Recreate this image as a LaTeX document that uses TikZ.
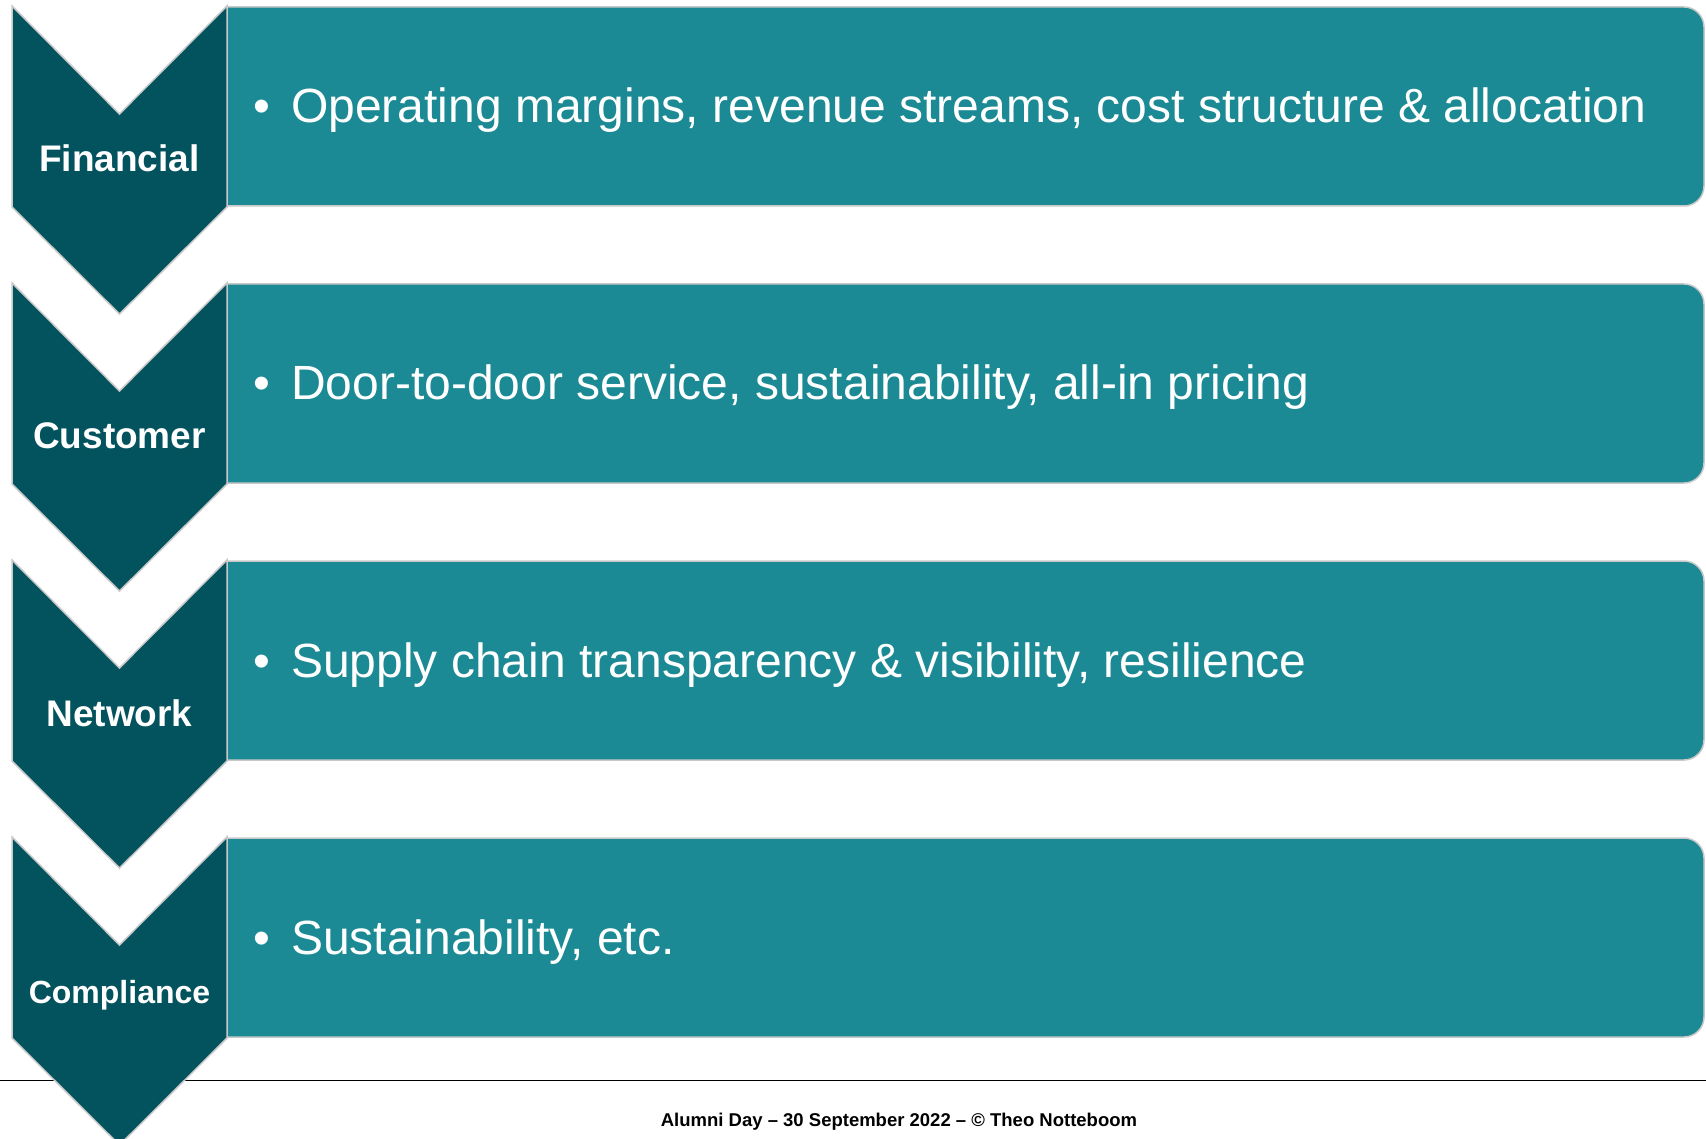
\documentclass[tikz,border=0pt]{standalone}
\usepackage{fontspec}
\setmainfont{Liberation Sans}
\definecolor{darkteal}{RGB}{2,83,94}
\definecolor{midteal}{RGB}{27,138,148}
\definecolor{rim}{RGB}{200,200,200}
\begin{document}
\begin{tikzpicture}
  [x=1pt,y=-1pt,
   chev/.style ={fill=darkteal,draw=rim,line width=1.5pt},
   bar/.style ={fill=midteal,draw=rim,line width=1.5pt,rounded corners=20pt},
   lbl/.style ={text=white,anchor=base,inner sep=0pt},
   txt/.style ={text=white,anchor=base west,inner sep=0pt,font=\fontsize{48}{56}\selectfont},
   foot/.style ={font=\bfseries\fontsize{18.5}{20}\selectfont}]
  \clip (0,0) rectangle (1706,1139);
  % rule above the footer
  \coordinate (ruleL) at (0,1080);
  \coordinate (ruleR) at (1706,1080);
  \draw[black,line width=1pt] (ruleL) -- (ruleR);
  \foreach \i/\name/\lab/\sz/\bartext in {
      0/fin/Financial/37/{Operating margins, revenue streams, cost structure \& allocation},
      1/cust/Customer/37/{Door-to-door service, sustainability, all-in pricing},
      2/net/Network/37/{Supply chain transparency \& visibility, resilience},
      3/comp/Compliance/32/{Sustainability, etc.}}
  {
    \pgfmathsetmacro{\yy}{6+277*\i}
    \draw[bar] (227,\yy+1) -- (1704,\yy+1) -- (1704,\yy+200) -- (227,\yy+200);
    \draw[chev] (12,\yy) -- (119.5,\yy+108) -- (227,\yy) -- (227,\yy+201)
      -- (119.5,\yy+308) -- (12,\yy+201) -- cycle;
    \node[lbl,font=\bfseries\fontsize{\sz}{\sz}\selectfont] (\name-lab) at (119.5,\yy+166) {\lab};
    \node[txt] (\name-txt) at (253,\yy+117) {\makebox[38pt][l]{\textbullet}\bartext};
  }
  \node[foot] (footer) at (899,1122) {Alumni Day – 30 September 2022 – © Theo Notteboom};
\end{tikzpicture}
\end{document}
